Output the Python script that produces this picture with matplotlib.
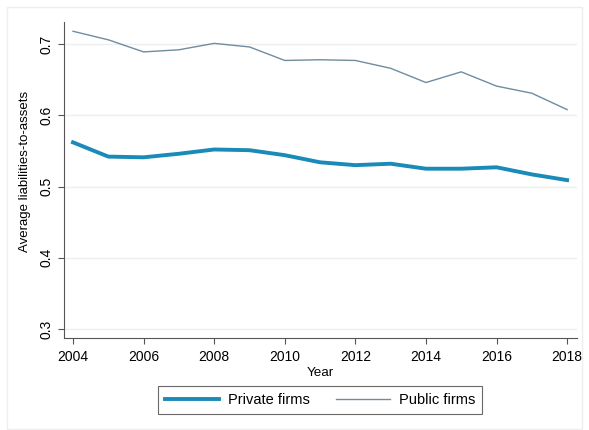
import matplotlib
matplotlib.use("Agg")
import matplotlib.pyplot as plt
from matplotlib.patches import Rectangle

years = list(range(2004, 2019))
private_firms = [0.562, 0.542, 0.541, 0.546, 0.552, 0.551, 0.544, 0.534,
                 0.530, 0.532, 0.525, 0.525, 0.527, 0.517, 0.509]
public_firms = [0.718, 0.706, 0.689, 0.692, 0.701, 0.696, 0.677, 0.678,
                0.677, 0.666, 0.646, 0.661, 0.641, 0.631, 0.608]
yticks = [0.3, 0.4, 0.5, 0.6, 0.7]
xticks = list(range(2004, 2019, 2))

plt.rcParams['font.family'] = ['Liberation Sans', 'DejaVu Sans']

fig = plt.figure(figsize=(5.89, 4.3), dpi=100)
# faint outer frame
fig.patches.append(Rectangle((7 / 589, 1 - 429 / 430), 575 / 589, 422 / 430,
                             transform=fig.transFigure, fill=False,
                             edgecolor='#eeeeee', linewidth=1))

ax = fig.add_axes([64 / 589, 1 - 338 / 430, 513 / 589, 316 / 430])
ax.plot(years, private_firms, color='#1a8ab8', linewidth=2.8, label='Private firms')
ax.plot(years, public_firms, color='#6f8ca0', linewidth=1.0, label='Public firms')

ax.set_xlim(2003.745, 2018.28)
ax.set_ylim(0.2873, 0.731)
ax.set_xticks(xticks)
ax.set_yticks(yticks)
ax.set_yticklabels([str(t) for t in yticks], rotation=90, va='center')
ax.tick_params(labelsize=10, color='#555555', length=4)
ax.tick_params(axis='x', pad=4.5)
ax.grid(axis='y', color='#eeeeee', linewidth=1)
ax.set_axisbelow(True)
for s in ['top', 'right']:
    ax.spines[s].set_visible(False)
for s in ['left', 'bottom']:
    ax.spines[s].set_color('#555555')

ax.set_xlabel('Year', fontsize=9.6, labelpad=2.5)
ax.set_ylabel('Average liabilities-to-assets', fontsize=9.5)
ax.yaxis.set_label_coords(-33 / 513, 0.528)

leg = ax.legend(loc='center', bbox_to_anchor=(320 / 589, 1 - 400 / 430),
                bbox_transform=fig.transFigure, ncol=2, fontsize=10.5,
                frameon=True, fancybox=False, edgecolor='#444444',
                handlelength=3.7, handletextpad=0.6, columnspacing=1.8,
                borderpad=0.45)
leg.get_frame().set_linewidth(0.8)

fig.savefig('out.png', dpi=100)
